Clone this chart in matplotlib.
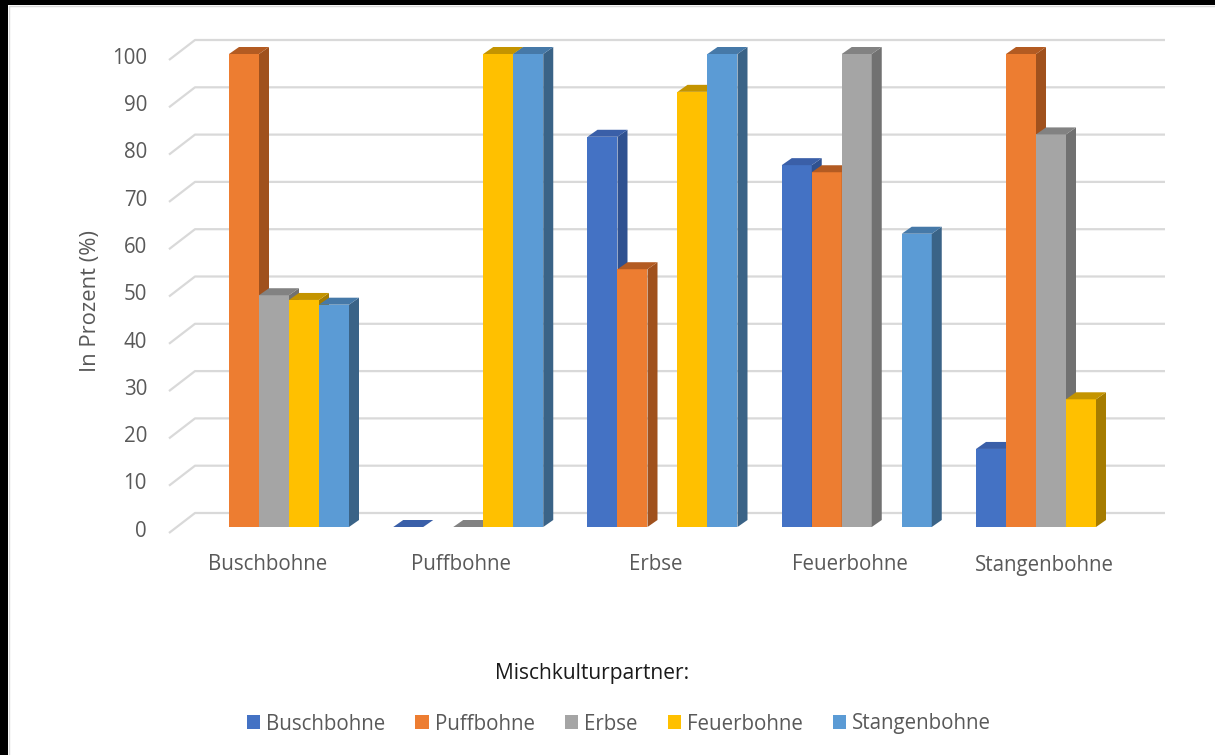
import matplotlib.pyplot as plt
from matplotlib.patches import Polygon, Rectangle, Patch
import numpy as np

nan = np.nan

categories = ["Buschbohne", "Puffbohne", "Erbse", "Feuerbohne", "Stangenbohne"]
partners = ["Buschbohne", "Puffbohne", "Erbse", "Feuerbohne", "Stangenbohne"]

# one series per mixed-culture partner, values per category (in %)
buschbohne = [nan, 0, 82.5, 76.5, 16.5]
puffbohne = [100, nan, 54.5, 75, 100]
erbse = [49, 0, nan, 100, 83]
feuerbohne = [48, 100, 92, nan, 27]
stangenbohne = [47, 100, 100, 62, nan]
series = [buschbohne, puffbohne, erbse, feuerbohne, stangenbohne]

yticks = list(range(0, 101, 10))

# front, side, top colours of the 3d columns
front = ["#4472C4", "#ED7D31", "#A5A5A5", "#FFC000", "#5B9BD5"]
side = ["#2F5190", "#A0511D", "#717171", "#A67C00", "#3A6387"]
top = ["#3A5FA8", "#B35B22", "#828282", "#C49400", "#4679A8"]

W, H = 1215, 755
fig = plt.figure(figsize=(W / 100, H / 100), dpi=100)
ax = fig.add_axes([0, 0, 1, 1])

# pixel scale of the plot
px_x = 194.25   # pixels per category
px_y = 4.73     # pixels per percent
x0_pix, y0_pix = 274, 527
ax.set_xlim(-x0_pix / px_x, (W - x0_pix) / px_x)
ax.set_ylim(-(H - y0_pix) / px_y, y0_pix / px_y)
ax.axis("off")

def px(dx):
    return dx / px_x

def py(dy):
    return dy / px_y

bar_w = px(30)
depth_x, depth_y = px(10), py(7)
wall_dy = py(14)
wall_left, wall_right = px(195 - x0_pix), px(1165 - x0_pix)
front_left = px(169 - x0_pix)
front_dy = wall_dy - py(20)

grid_c = "#D9D9D9"
text_c = "#595959"
font = ["Open Sans", "DejaVu Sans"]
fs = 14.8

# back wall gridlines with the diagonal to the front
for v in yticks:
    vb = v + wall_dy
    ax.plot([front_left, wall_left, wall_right], [v + front_dy, vb, vb],
            color=grid_c, lw=1.6, zorder=1, solid_capstyle="butt")
    ax.text(px(147 - x0_pix), v - 0.9, str(v), ha="right", va="center",
            fontsize=fs, color=text_c, family=font)

# columns
for j, vals in enumerate(series):
    for i, v in enumerate(vals):
        if np.isnan(v):
            continue
        xl = i - 2.5 * bar_w + j * bar_w
        xr = xl + bar_w
        z = 2 + i * 10 + j
        ax.bar(xl, v, width=bar_w, align="edge", color=front[j], lw=0, zorder=z)
        ax.add_patch(Polygon([(xr, 0), (xr + depth_x, depth_y),
                              (xr + depth_x, v + depth_y), (xr, v)],
                             closed=True, fc=side[j], lw=0, zorder=z))
        ax.add_patch(Polygon([(xl, v), (xr, v), (xr + depth_x, v + depth_y),
                              (xl + depth_x, v + depth_y)],
                             closed=True, fc=top[j], lw=0, zorder=z))

for i, c in enumerate(categories):
    ax.text(i - 0.035, py(527 - 565), c, ha="center", va="center",
            fontsize=fs, color=text_c, family=font)

ax.text(px(91 - x0_pix), py(527 - 301), "In Prozent (%)", rotation=90,
        ha="center", va="center", fontsize=15.8, color=text_c, family=font)

ax.text(px(592 - x0_pix), py(527 - 673), "Mischkulturpartner:", ha="center",
        va="center", fontsize=15.1, color="#1A1A1A", family=font)

handles = [Patch(facecolor=front[j], edgecolor="none") for j in range(5)]
leg = fig.legend(handles, partners, loc="center", ncol=5,
                 bbox_to_anchor=(619 / W, 1 - 724 / H), frameon=False,
                 handlelength=0.65, handleheight=0.65, handletextpad=0.3,
                 columnspacing=1.45, prop={"family": font, "size": fs})
for t in leg.get_texts():
    t.set_color(text_c)

# black frame at top and left with the light chart border inside
fig.patches.append(Rectangle((0, 1 - 5 / H), 1, 5 / H, transform=fig.transFigure,
                             fc="black", lw=0, zorder=20))
fig.patches.append(Rectangle((0, 0), 8 / W, 1, transform=fig.transFigure,
                             fc="black", lw=0, zorder=20))
fig.lines.append(plt.Line2D([8.5 / W, 8.5 / W, 1], [0, 1 - 5.5 / H, 1 - 5.5 / H],
                            transform=fig.transFigure, color="#D9D9D9", lw=1))

fig.savefig("out.png", dpi=100)
